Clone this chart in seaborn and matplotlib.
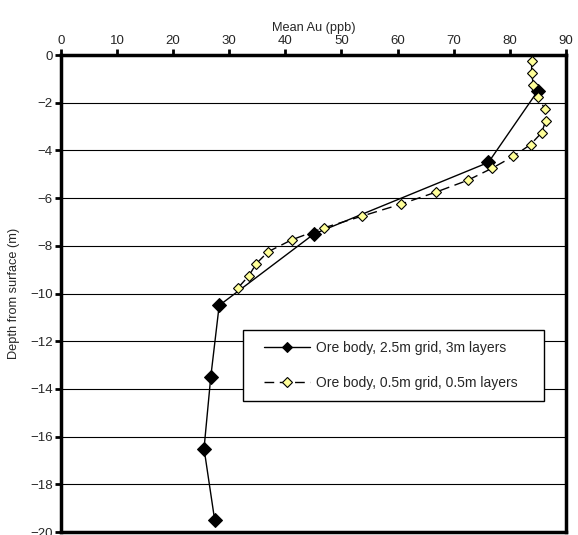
import matplotlib
matplotlib.use("Agg")
import matplotlib.pyplot as plt
import seaborn as sns
import pandas as pd
from matplotlib.legend_handler import HandlerLine2D
from matplotlib.lines import Line2D

coarse_depth = [-1.5, -4.5, -7.5, -10.5, -13.5, -16.5, -19.5]
coarse_au = [85.0, 76.2, 45.1, 28.2, 26.7, 25.5, 27.4]

fine_depth = [-0.25, -0.75, -1.25, -1.75, -2.25, -2.75, -3.25, -3.75, -4.25, -4.75,
              -5.25, -5.75, -6.25, -6.75, -7.25, -7.75, -8.25, -8.75, -9.25, -9.75]
fine_au = [83.9, 83.9, 84.2, 85.1, 86.2, 86.4, 85.7, 83.7, 80.6, 76.8,
           72.5, 66.8, 60.6, 53.7, 46.8, 41.1, 36.9, 34.8, 33.5, 31.6]

label_coarse = "Ore body, 2.5m grid, 3m layers"
label_fine = "Ore body, 0.5m grid, 0.5m layers"

sns.set_style("white")
plt.rcParams['font.family'] = ['Liberation Sans', 'DejaVu Sans']

fig = plt.figure(figsize=(5.78, 5.35), dpi=100)
ax = fig.add_axes([0.1055, 0.0056, 0.8735, 0.8914])

df_c = pd.DataFrame({"au": coarse_au, "depth": coarse_depth})
df_f = pd.DataFrame({"au": fine_au, "depth": fine_depth})

sns.lineplot(data=df_c, x="au", y="depth", sort=False, estimator=None, ax=ax,
             color="black", linewidth=1.0, marker="D", markersize=7,
             markerfacecolor="black", markeredgecolor="black",
             label=label_coarse, zorder=3)
sns.lineplot(data=df_f, x="au", y="depth", sort=False, estimator=None, ax=ax,
             color="black", linewidth=1.0, linestyle=(0, (7, 4)), marker="D",
             markersize=5.5, markerfacecolor="#FFFF99", markeredgecolor="black",
             markeredgewidth=0.8, label=label_fine, zorder=4)

ax.set_xlim(0, 90)
ax.set_ylim(-20, 0)
ax.set_xticks(range(0, 91, 10))
ax.set_yticks(range(-20, 1, 2))
ax.xaxis.tick_top()
ax.xaxis.set_label_position("top")
ax.set_xlabel("Mean Au (ppb)", fontsize=9.2, labelpad=3)
ax.set_ylabel("Depth from surface (m)", fontsize=9.2, labelpad=7)
ax.tick_params(axis="both", labelsize=9.5, direction="out", length=4, width=2,
               color="black", pad=2)
ax.tick_params(axis="x", top=True, bottom=False)
ax.tick_params(axis="y", left=True, right=False)

for y in range(-18, 0, 2):
    ax.axhline(y, color="black", linewidth=0.8, zorder=1)

for s in ax.spines.values():
    s.set_visible(True)
    s.set_color("black")
    s.set_linewidth(2.5)

handles, labels = ax.get_legend_handles_labels()
hmap = {h: HandlerLine2D(xpad=0.8) for h in handles}
leg = ax.legend(handles, labels, handler_map=hmap,
                loc="upper left", bbox_to_anchor=(0.36, 0.423, 0.596, 0.0),
                mode="expand", borderaxespad=0, frameon=True,
                fancybox=False, framealpha=1, edgecolor="black", fontsize=10,
                handlelength=4.1, labelspacing=1.55, borderpad=0.75,
                handletextpad=0.4)
leg.get_frame().set_linewidth(1.0)
for h, ms in zip(leg.legend_handles, [5.5, 5]):
    h.set_markersize(ms)

fig.savefig("out.png", dpi=100)
